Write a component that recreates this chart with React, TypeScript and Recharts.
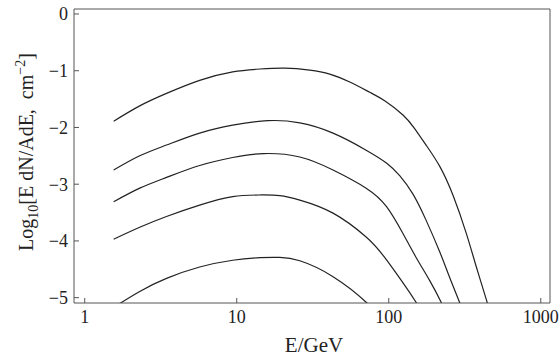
import React from "react";
import { LineChart, Line, XAxis, YAxis, Label } from "recharts";

// energies (GeV) and log10 flux values, one pair of arrays per curve
const e1 = [1.55, 2.3, 3.45, 5.7, 9.4, 14.2, 20.7, 30.2, 40.9, 55.4, 75, 94, 124, 148, 177, 217, 265, 324, 377, 439, 470];
const y1 = [-1.89, -1.62, -1.4, -1.17, -1.02, -0.97, -0.955, -0.99, -1.06, -1.2, -1.38, -1.53, -1.78, -2.02, -2.32, -2.69, -3.2, -3.87, -4.46, -5.04, -5.35];

const e2 = [1.55, 2.3, 3.45, 5.7, 9.4, 16, 26, 43, 71, 97, 118, 144, 175, 217, 252, 293, 341];
const y2 = [-2.75, -2.5, -2.31, -2.1, -1.96, -1.88, -1.92, -2.1, -2.4, -2.63, -2.85, -3.17, -3.62, -4.2, -4.65, -5.09, -5.55];

const e3 = [1.55, 2.3, 3.45, 5.7, 9.4, 15, 26, 43, 71, 97, 124, 152, 186, 222, 250];
const y3 = [-3.31, -3.07, -2.88, -2.67, -2.53, -2.46, -2.52, -2.75, -3.07, -3.4, -3.87, -4.3, -4.7, -5.09, -5.4];

const e4 = [1.55, 2.3, 3.45, 5.7, 9.4, 14.2, 19.2, 26, 43, 71, 97, 152, 175];
const y4 = [-3.97, -3.76, -3.57, -3.37, -3.22, -3.19, -3.2, -3.28, -3.51, -3.93, -4.34, -5.09, -5.4];

const e5 = [1.55, 2.3, 3.45, 5.7, 9.4, 14.2, 19.2, 26, 43, 71.6, 85];
const y5 = [-5.17, -4.89, -4.66, -4.46, -4.34, -4.295, -4.29, -4.35, -4.63, -5.09, -5.35];

const xTicks = [1, 10, 100, 1000];
const yTicks = [0, -1, -2, -3, -4, -5];

const curves = [
  { e: e1, y: y1 },
  { e: e2, y: y2 },
  { e: e3, y: y3 },
  { e: e4, y: y4 },
  { e: e5, y: y5 },
].map((c) => c.e.map((e, i) => ({ e, v: c.y[i] })));

const FONT = "'Liberation Serif', 'Times New Roman', serif";
const AXIS = "#555";
const INK = "#222";

const fmtY = (v: number) => (v < 0 ? `\u2212${-v}` : `${v}`);

export default function App() {
  return (
    <div style={{ position: "absolute", left: 0, top: 0, background: "#fff" }}>
      <LineChart width={560} height={360} margin={{ top: 0, right: 0, bottom: 0, left: 10 }}>
        <XAxis
          dataKey="e"
          type="number"
          scale="log"
          domain={[0.85, 1150]}
          allowDataOverflow
          ticks={xTicks}
          height={57}
          stroke={AXIS}
          tickSize={-5}
          tickMargin={12}
          tick={{ fill: INK, fontSize: 18, fontFamily: FONT }}
        >
          <Label
            content={() => (
              <text x={314} y={352} textAnchor="middle" fill={INK} fontSize={21} fontFamily={FONT}>
                E/GeV
              </text>
            )}
          />
        </XAxis>
        <XAxis
          xAxisId="top"
          orientation="top"
          type="number"
          domain={[0, 1]}
          height={9}
          tick={false}
          tickLine={false}
          stroke={AXIS}
        />
        <YAxis
          type="number"
          domain={[-5.094, 0.088]}
          allowDataOverflow
          ticks={yTicks}
          width={64}
          stroke={AXIS}
          tickSize={-5}
          tickMargin={11}
          tickFormatter={fmtY}
          tick={{ fill: INK, fontSize: 18, fontFamily: FONT }}
        >
          <Label
            content={() => (
              <text
                x={33}
                y={152}
                transform="rotate(-90, 33, 152)"
                textAnchor="middle"
                fill={INK}
                fontSize={20}
                fontFamily={FONT}
              >
                Log
                <tspan fontSize={14} dy={5}>10</tspan>
                <tspan dy={-5}>{"[E dN/AdE,\u00a0\u00a0cm"}</tspan>
                <tspan fontSize={14} dy={-8}>{"\u22122"}</tspan>
                <tspan dy={8}>]</tspan>
              </text>
            )}
          />
        </YAxis>
        <YAxis
          yAxisId="right"
          orientation="right"
          type="number"
          domain={[0, 1]}
          width={10}
          tick={false}
          tickLine={false}
          stroke={AXIS}
        />
        {curves.map((d, i) => (
          <Line
            key={i}
            data={d}
            dataKey="v"
            type="natural"
            stroke={INK}
            strokeWidth={1.2}
            dot={false}
            isAnimationActive={false}
          />
        ))}
      </LineChart>
    </div>
  );
}
